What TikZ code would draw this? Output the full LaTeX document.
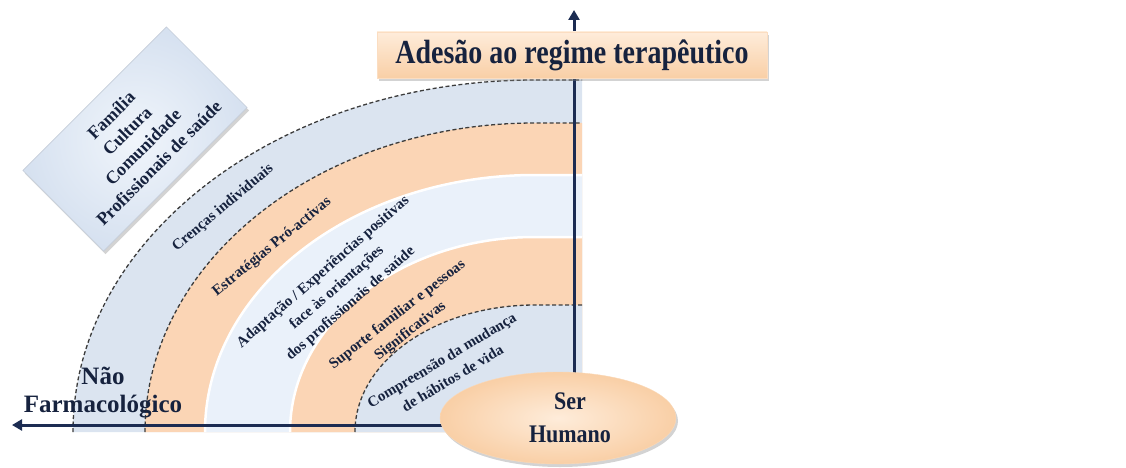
\documentclass[tikz,border=0pt]{standalone}
\usepackage{fontspec}
\usepackage{graphicx}
\setmainfont{Liberation Serif}
\usetikzlibrary{arrows.meta,shadows,shapes.geometric}
\definecolor{navy}{RGB}{22,34,62}
\definecolor{arrowc}{RGB}{28,44,82}
\definecolor{bandblue}{RGB}{219,228,240}
\definecolor{bandorange}{RGB}{251,213,181}
\definecolor{bandlight}{RGB}{234,241,250}
\definecolor{dashc}{RGB}{60,60,60}
\definecolor{peach}{RGB}{249,207,166}
\definecolor{peachlight}{RGB}{254,236,218}
\definecolor{boxblue}{RGB}{214,225,240}
\definecolor{boxbluelight}{RGB}{240,245,251}
\pgfdeclarelayer{bandlayer}
\pgfdeclarelayer{arrowlayer}
\pgfsetlayers{bandlayer,arrowlayer,main}
\def\cx{535}
\newcommand{\bandfill}[2]{(#1,432) arc[start angle=180,end angle=90,x radius=\cx pt-#1pt,y radius=432pt-#2pt] -- (582,#2) -- (582,432) -- cycle}
\newcommand{\bandline}[2]{(#1,432) arc[start angle=180,end angle=90,x radius=\cx pt-#1pt,y radius=432pt-#2pt] -- (582,#2)}
\begin{document}
\begin{tikzpicture}[x=1pt,y=-1pt,
  lbl/.style={font=\bfseries\fontsize{15}{21}\selectfont, text=navy, align=center, inner sep=0pt},
  big/.style={font=\bfseries\fontsize{25}{28}\selectfont, text=navy, inner sep=0pt},
  dashline/.style={draw=dashc, line width=1.3pt, dash pattern=on 4pt off 2.5pt},
  axis/.style={draw=arrowc, line width=3pt, -{Triangle[length=10pt,width=11pt]}},
  titlebox/.style={draw=peach!70!white, line width=0.8pt, top color=peachlight, bottom color=peach,
    minimum width=390pt, minimum height=46pt, inner sep=0pt,
    drop shadow={shadow xshift=2pt,shadow yshift=-3pt,opacity=0.35},
    font=\bfseries\fontsize{28}{30}\selectfont, text=navy},
  serbox/.style={ellipse, inner color=peachlight, outer color=peach, draw=peach!80!white,
    minimum width=236pt, minimum height=92pt, inner sep=0pt,
    drop shadow={shadow xshift=2pt,shadow yshift=-3pt,opacity=0.35}},
  sertext/.style={align=center, inner sep=0pt,
    font=\bfseries\fontsize{22}{33}\selectfont, text=navy},
  fambox/.style={inner color=boxbluelight, outer color=boxblue, draw=boxblue!80!gray,
    line width=0.6pt, minimum width=203pt, minimum height=114pt, inner sep=0pt, align=center,
    drop shadow={shadow xshift=2pt,shadow yshift=-3pt,opacity=0.35},
    font=\bfseries\fontsize{18}{22.5}\selectfont, text=navy}
]
\useasboundingbox (0,0) rectangle (1126,468);

% main nodes
\node[titlebox] (ades) at (572,55) {\scalebox{1}[1.2]{Adesão ao regime terapêutico}};
\node[serbox] (ser) at (558,418) {};
\node[sertext] (sert) at (570,418) {\scalebox{1}[1.15]{Ser}\\\scalebox{1}[1.15]{Humano}};
\coordinate (vtop) at (574,10);
\coordinate (hend) at (12,425);

% bands
\begin{pgfonlayer}{bandlayer}
\fill[bandblue] \bandfill{73}{80};
\fill[bandorange] \bandfill{145}{123};
\fill[bandlight] \bandfill{205}{175};
\fill[bandorange] \bandfill{290}{237};
\fill[bandblue] \bandfill{355}{305};
\draw[white, line width=2.5pt] \bandline{205}{175};
\draw[white, line width=2.5pt] \bandline{290}{237};
\draw[dashline] \bandline{73}{80};
\draw[dashline] \bandline{145}{123};
\draw[dashline] \bandline{355}{305};
\end{pgfonlayer}

% axes
\begin{pgfonlayer}{arrowlayer}
\draw[axis] (ser.center -| vtop) -- (vtop);
\draw[axis] (ser.center |- hend) -- (hend);
\end{pgfonlayer}

% band labels
\node[lbl, rotate=40] (cren) at (223,208) {Crenças individuais};
\node[lbl, rotate=39] (estr) at (272,247) {Estratégias Pró-activas};
\node[lbl, rotate=41] (adap) at (337,288) {Adaptação / Experiências positivas\\face às orientações\\dos profissionais de saúde};
\node[lbl, rotate=38] (supo) at (404,323) {Suporte familiar e pessoas\\Significativas};
\node[lbl, rotate=31] (comp) at (447,369) {Compreensão da mudança\\de hábitos de vida};

\node[big, anchor=base] (nao) at (103,384) {Não};
\node[big, anchor=base] (farm) at (103,412) {Farmacológico};

\node[fambox, rotate=45] (fam) at (135,139) {Família\\Cultura\\Comunidade\\Profissionais de saúde};
\end{tikzpicture}
\end{document}
